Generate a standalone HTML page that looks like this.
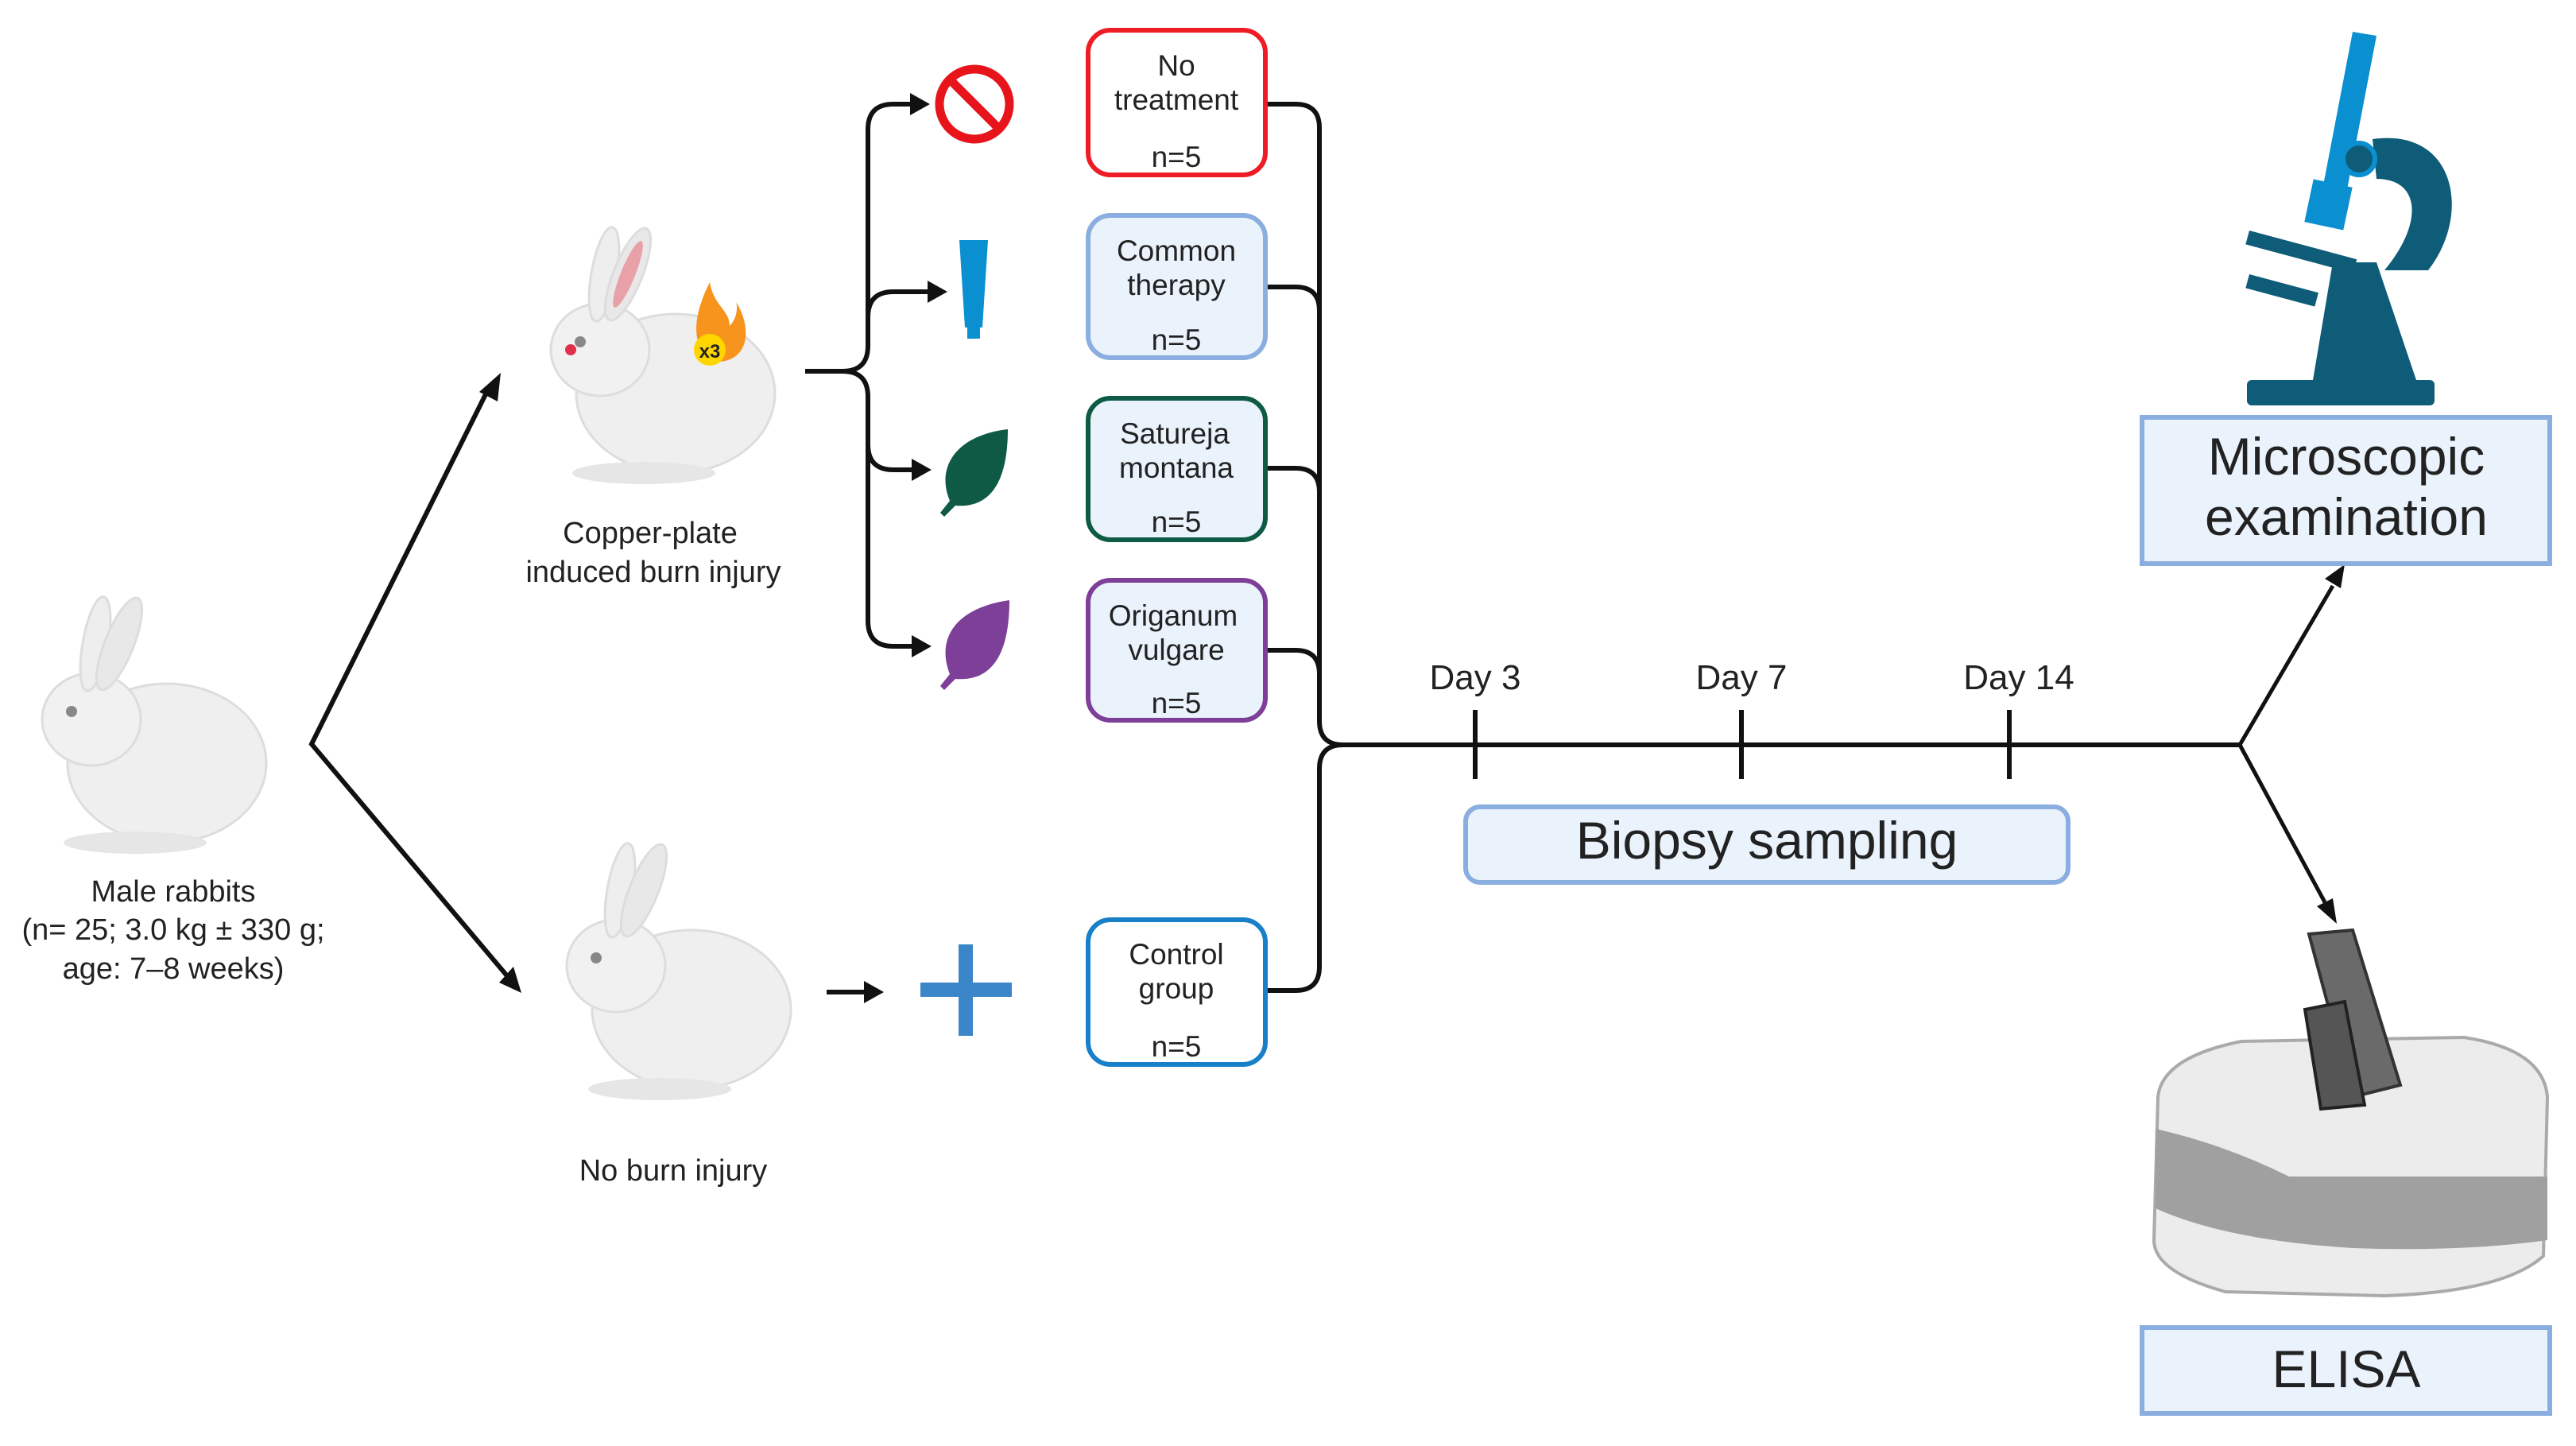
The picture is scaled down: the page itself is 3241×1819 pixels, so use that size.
<!DOCTYPE html>
<html><head><meta charset="utf-8"><style>
html,body{margin:0;padding:0;background:#fff;}
svg{display:block;}
text{font-family:"Liberation Sans",sans-serif;fill:#222;}
</style></head><body>
<svg width="3241" height="1819" viewBox="0 0 3241 1819" xmlns="http://www.w3.org/2000/svg">
<defs>
<g id="rab">
<ellipse cx="0" cy="0" rx="125" ry="100" fill="#efefef" stroke="#ddd" stroke-width="3"/>
<ellipse cx="-95" cy="-55" rx="62" ry="58" fill="#f1f1f1" stroke="#ddd" stroke-width="3"/>
<ellipse cx="-90" cy="-150" rx="16" ry="60" fill="#eee" stroke="#ddd" stroke-width="3" transform="rotate(10 -90 -150)"/>
<ellipse cx="-60" cy="-150" rx="18" ry="62" fill="#e8e8e8" stroke="#ddd" stroke-width="3" transform="rotate(22 -60 -150)"/>
<ellipse cx="-40" cy="100" rx="90" ry="14" fill="#e6e6e6"/>
<circle cx="-120" cy="-65" r="7" fill="#888"/>
</g>
</defs>

<use href="#rab" x="210" y="960"/>
<use href="#rab" x="850" y="495"/>
<use href="#rab" x="870" y="1270"/>
<ellipse cx="790" cy="345" rx="9" ry="45" fill="#e9a1a8" transform="rotate(22 790 345)"/>
<circle cx="718" cy="440" r="7" fill="#e0304a"/>
<path d="M893 455 c-25-25-20-60 0-100 c5 30 25 35 25 55 c10-10 10-25 8-30 c20 30 20 80-33 75z" fill="#f7941d"/>
<circle cx="893" cy="440" r="20" fill="#ffd500"/>
<text x="893" y="450" font-size="24" font-weight="bold" text-anchor="middle">x3</text>

<g font-size="38" text-anchor="middle">
<text x="218" y="1134">Male rabbits</text>
<text x="218" y="1182">(n= 25; 3.0 kg ± 330 g;</text>
<text x="218" y="1231">age: 7–8 weeks)</text>
<text x="818" y="683">Copper-plate</text>
<text x="822" y="732">induced burn injury</text>
<text x="847" y="1485">No burn injury</text>
</g>

<g stroke="#111" stroke-width="6" fill="none">
<path d="M614 490 L392 936 L640 1230"/>
<path d="M1013 467 H1060 Q1092 467 1092 435 V163 Q1092 131 1124 131 H1150"/>
<path d="M1092 435 V399 Q1092 367 1124 367 H1170"/>
<path d="M1060 467 Q1092 467 1092 499 V559 Q1092 591 1124 591 H1150"/>
<path d="M1092 559 V781 Q1092 813 1124 813 H1150"/>
<path d="M1040 1248 H1090"/>
<path d="M1592 131 H1630 Q1660 131 1660 161 V907 Q1660 937 1690 937 H2818"/>
<path d="M1592 361 H1630 Q1660 361 1660 391"/>
<path d="M1592 589 H1630 Q1660 589 1660 619"/>
<path d="M1592 818 H1630 Q1660 818 1660 848"/>
<path d="M1592 1246 H1630 Q1660 1246 1660 1216 V967 Q1660 937 1690 937"/>
<path d="M1856 893 V980 M2191 893 V980 M2528 893 V980"/>
<path d="M2818 937 L2935 737 M2818 937 L2925 1135" stroke-width="5"/>
</g>
<g fill="#111">
<polygon points="630,469 603,493 626,505"/>
<polygon points="656,1249 628,1236 646,1216"/>
<polygon points="1170,131 1145,117 1145,145"/>
<polygon points="1192,367 1167,353 1167,381"/>
<polygon points="1172,591 1147,577 1147,605"/>
<polygon points="1172,813 1147,799 1147,827"/>
<polygon points="1112,1248 1087,1234 1087,1262"/>
<polygon points="2950,710 2925,728 2945,740"/>
<polygon points="2940,1162 2915,1140 2935,1130"/>
</g>

<circle cx="1226" cy="131" r="44" fill="none" stroke="#e8141c" stroke-width="11"/>
<line x1="1196" y1="101" x2="1256" y2="161" stroke="#e8141c" stroke-width="11"/>
<path d="M1207 302 H1243 L1236 412 H1214 Z" fill="#0a8fd1"/>
<rect x="1217" y="412" width="16" height="14" fill="#0a8fd1"/>
<path d="M1268 540 C1200 548 1178 590 1195 630 L1183 645 L1188 650 L1202 636 C1250 640 1268 600 1268 540Z" fill="#0f5a45"/>
<path d="M1270 755 C1200 765 1178 805 1195 848 L1183 863 L1188 868 L1202 854 C1250 858 1270 820 1270 755Z" fill="#7d3f98"/>
<rect x="1206" y="1188" width="18" height="115" fill="#3a86c8"/>
<rect x="1158" y="1236" width="115" height="18" fill="#3a86c8"/>

<g stroke-width="6">
<rect x="1369" y="38" width="223" height="182" rx="28" fill="#fff" stroke="#ee1c25"/>
<rect x="1369" y="271" width="223" height="179" rx="28" fill="#eaf2fc" stroke="#8aaee0"/>
<rect x="1369" y="501" width="223" height="178" rx="28" fill="#eaf2fc" stroke="#0f5a45"/>
<rect x="1369" y="730" width="223" height="176" rx="28" fill="#eaf2fc" stroke="#7d3f98"/>
<rect x="1369" y="1157" width="223" height="182" rx="28" fill="#fff" stroke="#1780c8"/>
<rect x="1844" y="1015" width="758" height="95" rx="18" fill="#eaf2fc" stroke="#8aaee0"/>
<rect x="2695" y="525" width="513" height="184" fill="#eaf2fc" stroke="#8aaee0"/>
<rect x="2695" y="1670" width="513" height="108" fill="#eaf2fc" stroke="#8aaee0"/>
</g>
<g font-size="37" text-anchor="middle">
<text x="1480" y="95">No</text><text x="1480" y="138">treatment</text><text x="1480" y="210">n=5</text>
<text x="1480" y="328">Common</text><text x="1480" y="371">therapy</text><text x="1480" y="440">n=5</text>
<text x="1478" y="558">Satureja</text><text x="1480" y="601">montana</text><text x="1480" y="669">n=5</text>
<text x="1476" y="787">Origanum</text><text x="1480" y="830">vulgare</text><text x="1480" y="897">n=5</text>
<text x="1480" y="1213">Control</text><text x="1480" y="1256">group</text><text x="1480" y="1329">n=5</text>
</g>
<g font-size="44" text-anchor="middle">
<text x="1856" y="867">Day 3</text><text x="2191" y="867">Day 7</text><text x="2540" y="867">Day 14</text>
</g>
<text x="2223" y="1080" font-size="66" text-anchor="middle">Biopsy sampling</text>
<text x="2952" y="597" font-size="66" text-anchor="middle">Microscopic</text>
<text x="2952" y="673" font-size="66" text-anchor="middle">examination</text>
<text x="2952" y="1745" font-size="66" text-anchor="middle">ELISA</text>

<g fill="#0e5c78">
<rect x="2827" y="478" width="236" height="32" rx="6"/>
<path d="M2910 478 L2935 330 L2990 330 L3040 478Z"/>
<path d="M2985 175 C3090 160 3110 270 3055 340 L3000 340 C3050 280 3045 225 2990 225Z"/>
<rect x="2830" y="290" width="140" height="18" transform="rotate(15 2830 290)"/>
<rect x="2830" y="345" width="90" height="18" transform="rotate(15 2830 345)"/>
</g>
<g fill="#0a8fd1">
<path d="M2960 40 L2990 45 L2945 280 L2915 275Z"/>
<rect x="2905" y="230" width="50" height="55" transform="rotate(12 2930 255)"/>
</g>
<circle cx="2968" cy="200" r="20" fill="#0e5c78" stroke="#0a8fd1" stroke-width="6"/>

<path d="M2715 1380 Q2720 1330 2820 1310 L3100 1305 Q3200 1320 3205 1380 L3200 1580 Q3150 1625 3000 1630 L2800 1625 Q2710 1600 2710 1560Z" fill="#ececec" stroke="#aaa" stroke-width="4"/>
<path d="M2712 1420 Q2800 1440 2880 1480 H3205 V1560 Q3100 1575 2960 1570 Q2800 1560 2712 1520Z" fill="#a0a0a0"/>
<path d="M2905 1175 L2960 1170 L3020 1365 L2960 1380Z" fill="#6a6a6a" stroke="#333" stroke-width="4"/>
<path d="M2900 1270 L2950 1260 L2975 1390 L2920 1395Z" fill="#555" stroke="#222" stroke-width="4"/>
</svg>
</body></html>
